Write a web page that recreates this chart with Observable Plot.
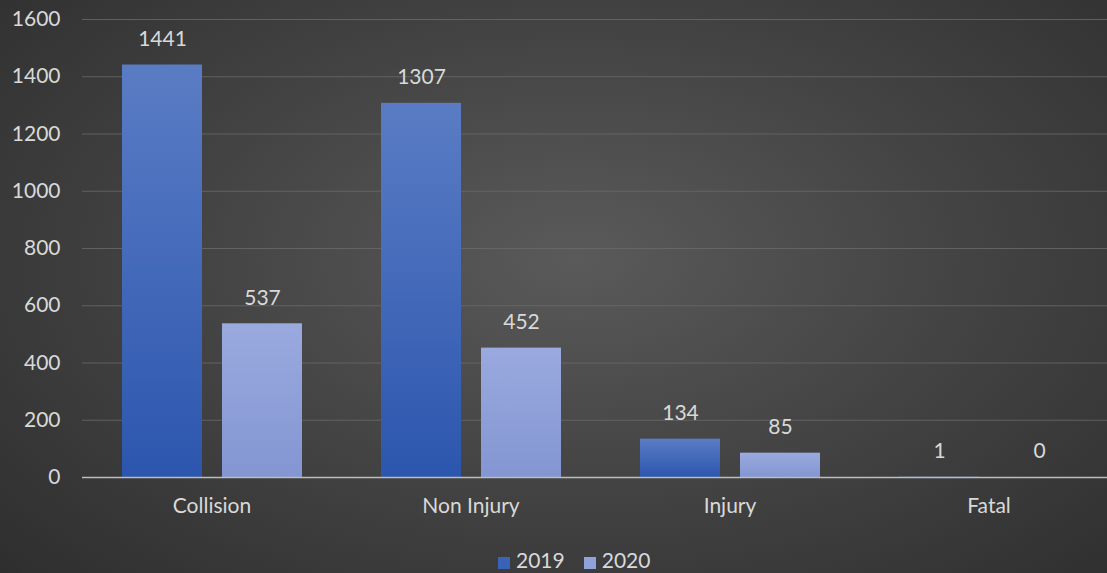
<!DOCTYPE html>
<html><head><meta charset="utf-8">
<script src="https://cdn.jsdelivr.net/npm/d3@7"></script>
<script src="https://cdn.jsdelivr.net/npm/@observablehq/plot@0.6"></script>
<style>
html,body{margin:0;padding:0;overflow:hidden;}
#wrap{position:relative;width:1107px;height:573px;overflow:hidden;
 background:radial-gradient(ellipse 75% 85% at 52% 45%, #5a5a5a 0%, #444 45%, #2c2c2c 100%);
 font-family:Lato,"Open Sans",sans-serif;color:#d9d9d9;}
#chart{position:absolute;left:0;top:0;width:1118px;}
#chart svg{max-width:none !important;}
#legend{position:absolute;top:549px;left:498px;font-size:21px;line-height:22px;display:flex;align-items:center;color:#d9d9d9;white-space:nowrap;}
#legend .sw{display:inline-block;width:12px;height:12px;margin-right:6px;vertical-align:middle;}
</style></head>
<body><div id="wrap"><div id="chart"></div><div id="legend"></div></div>
<script>
const categories = ["Collision", "Non Injury", "Injury", "Fatal"];
const years = ["2019", "2020"];
const values2019 = [1441, 1307, 134, 1];
const values2020 = [537, 452, 85, 0];
const yTicks = [0, 200, 400, 600, 800, 1000, 1200, 1400, 1600];

const data = [];
categories.forEach((c, i) => {
  data.push({category: c, year: "2019", value: values2019[i]});
  data.push({category: c, year: "2020", value: values2020[i]});
});

const fills = {"2019": "url(#g2019)", "2020": "url(#g2020)"};

const chart = Plot.plot({
  width: 1118, height: 535,
  marginTop: 19, marginBottom: 58, marginLeft: 82, marginRight: 0,
  style: {background: "transparent", color: "#d9d9d9", fontFamily: "Lato, 'Open Sans', sans-serif", fontSize: "21px", maxWidth: "none"},
  fx: {domain: categories, padding: 0, label: null, axis: "bottom", tickSize: 0, tickPadding: 21},
  x: {domain: years, paddingInner: 0.2, paddingOuter: 0.395, axis: null},
  y: {domain: [0, 1600], ticks: yTicks, label: null, tickSize: 0, tickPadding: 22, tickFormat: d => String(d)},
  marks: [
    Plot.gridY(yTicks.slice(1), {stroke: "#6a6a6a", strokeOpacity: 0.8, strokeWidth: 1.2}),
    ...years.map(yr => Plot.barY(data.filter(d => d.year === yr), {
      fx: "category", x: "year", y: "value", fill: fills[yr], insetLeft: 0, insetRight: 0
    })),
    Plot.ruleY([0], {stroke: "#bdbdbd", strokeWidth: 1.5}),
    Plot.text(data, {fx: "category", x: "year", y: "value", text: d => String(d.value),
      dy: -26, fill: "#d9d9d9", fontSize: 21})
  ]
});

const svg = d3.select(chart);
const defs = svg.insert("defs", ":first-child");
const g1 = defs.append("linearGradient").attr("id", "g2019").attr("x1", 0).attr("y1", 0).attr("x2", 0).attr("y2", 1);
g1.append("stop").attr("offset", "0%").attr("stop-color", "#5a7cc4");
g1.append("stop").attr("offset", "100%").attr("stop-color", "#2c56ae");
const g2 = defs.append("linearGradient").attr("id", "g2020").attr("x1", 0).attr("y1", 0).attr("x2", 0).attr("y2", 1);
g2.append("stop").attr("offset", "0%").attr("stop-color", "#9aaadf");
g2.append("stop").attr("offset", "100%").attr("stop-color", "#8396d2");

document.getElementById("chart").appendChild(chart);

const legend = document.getElementById("legend");
const swatchCols = {"2019": "#3a62b8", "2020": "#8fa2da"};
years.forEach((yr, i) => {
  const item = document.createElement("span");
  item.style.marginRight = i === 0 ? "19px" : "0";
  item.innerHTML = `<span class="sw" style="background:${swatchCols[yr]}"></span>${yr}`;
  legend.appendChild(item);
});
</script>
</body></html>
